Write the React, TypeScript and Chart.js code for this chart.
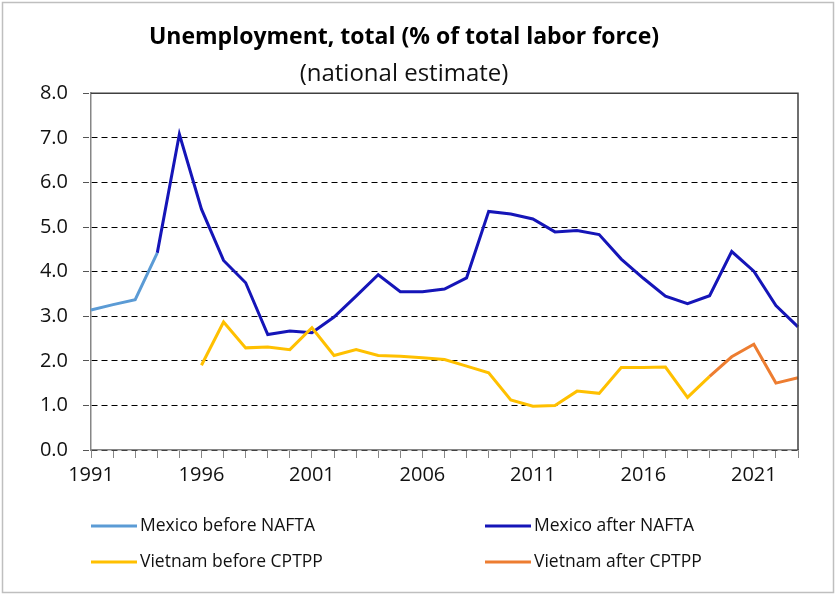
import React, { useEffect, useRef } from "react";
import { Chart, registerables } from "chart.js";

Chart.register(...registerables);

const years = [
  "1991", "1992", "1993", "1994", "1995", "1996", "1997", "1998", "1999", "2000",
  "2001", "2002", "2003", "2004", "2005", "2006", "2007", "2008", "2009", "2010",
  "2011", "2012", "2013", "2014", "2015", "2016", "2017", "2018", "2019", "2020",
  "2021", "2022", "2023",
];

// Mexico before NAFTA, 1991-1994
const mexicoBeforeStart = "1991";
const mexicoBefore = [3.14, 3.26, 3.37, 4.42];

// Mexico after NAFTA, 1994-2023
const mexicoAfterStart = "1994";
const mexicoAfter = [
  4.42, 7.08, 5.4, 4.25, 3.75, 2.59, 2.67, 2.63, 2.98, 3.45,
  3.93, 3.55, 3.55, 3.61, 3.86, 5.35, 5.29, 5.18, 4.89, 4.92,
  4.83, 4.28, 3.85, 3.45, 3.28, 3.46, 4.45, 4.01, 3.24, 2.76,
];

// Vietnam before CPTPP, 1996-2019
const vietnamBeforeStart = "1996";
const vietnamBefore = [
  1.9, 2.87, 2.29, 2.31, 2.25, 2.74, 2.12, 2.25, 2.12, 2.1,
  2.07, 2.03, 1.88, 1.73, 1.12, 0.98, 1.0, 1.32, 1.27, 1.85,
  1.85, 1.86, 1.18, 1.65,
];

// Vietnam after CPTPP, 2019-2023
const vietnamAfterStart = "2019";
const vietnamAfter = [1.65, 2.09, 2.37, 1.5, 1.62];

const yTicks = [0, 1, 2, 3, 4, 5, 6, 7, 8];
const xLabelEvery = 5;

const titleText = "Unemployment, total (% of total labor force)";
const subtitleText = "(national estimate)";

const seriesNames = [
  "Mexico before NAFTA",
  "Mexico after NAFTA",
  "Vietnam before CPTPP",
  "Vietnam after CPTPP",
];
const seriesColors = ["#5B9BD5", "#1515B8", "#FFC000", "#ED7D31"];

const FONT = "'Open Sans', Lato, sans-serif";

function pad(start: string, values: number[]): (number | null)[] {
  const s = years.indexOf(start);
  return years.map((_, i) => (i >= s && i - s < values.length ? values[i - s] : null));
}

const frameAndLegend = {
  id: "frameAndLegend",
  afterDraw(chart: any) {
    const { ctx, chartArea } = chart;
    const { left, right, top, bottom } = chartArea;
    ctx.save();
    // outer border
    ctx.strokeStyle = "#BFBFBF";
    ctx.lineWidth = 1.5;
    ctx.strokeRect(2.5, 2.5, chart.width - 5, chart.height - 5);
    // plot border top & right
    ctx.strokeStyle = "#404040";
    ctx.lineWidth = 1.5;
    ctx.beginPath();
    ctx.moveTo(left, top);
    ctx.lineTo(right, top);
    ctx.lineTo(right, bottom);
    ctx.stroke();

    // legend
    const cols = [left, left + 394];
    const rows = [bottom + 76, bottom + 112];
    ctx.font = `17.5px ${FONT}`;
    ctx.textBaseline = "middle";
    ctx.textAlign = "left";
    seriesNames.forEach((name, i) => {
      const x = cols[i % 2];
      const y = rows[Math.floor(i / 2)];
      ctx.strokeStyle = seriesColors[i];
      ctx.lineWidth = 3;
      ctx.beginPath();
      ctx.moveTo(x, y);
      ctx.lineTo(x + 46, y);
      ctx.stroke();
      ctx.fillStyle = "#111";
      ctx.fillText(name, x + 49, y);
    });
    ctx.restore();
  },
};

export default function App() {
  const ref = useRef<HTMLCanvasElement>(null);
  useEffect(() => {
    document.body.style.margin = "0";
    const canvas = ref.current!;
    const mk = (i: number, data: (number | null)[]) => ({
      label: seriesNames[i],
      data,
      borderColor: seriesColors[i],
      backgroundColor: seriesColors[i],
      borderWidth: 3,
      pointRadius: 0,
      tension: 0,
      spanGaps: false,
      fill: false,
    });
    const chart = new Chart(canvas, {
      type: "line",
      data: {
        labels: years,
        datasets: [
          mk(3, pad(vietnamAfterStart, vietnamAfter)),
          mk(2, pad(vietnamBeforeStart, vietnamBefore)),
          mk(0, pad(mexicoBeforeStart, mexicoBefore)),
          mk(1, pad(mexicoAfterStart, mexicoAfter)),
        ],
      },
      options: {
        responsive: false,
        animation: false,
        layout: { padding: { left: 10, right: 38, top: 10, bottom: 95 } },
        plugins: {
          legend: { display: false },
          tooltip: { enabled: false },
          title: {
            display: true,
            text: titleText,
            color: "#000",
            font: { family: FONT, size: 23, weight: "bold", lineHeight: 1.2 },
            padding: { top: 14, bottom: 1 },
          },
          subtitle: {
            display: true,
            text: subtitleText,
            color: "#111",
            font: { family: FONT, size: 24, weight: "normal", lineHeight: 1.15 },
            padding: { top: 8, bottom: 5 },
          },
        },
        scales: {
          x: {
            type: "category",
            offset: false,
            grid: {
              display: true,
              drawOnChartArea: false,
              drawTicks: true,
              tickLength: 8,
              tickColor: "#868686",
              tickWidth: 1,
              offset: false,
            },
            border: { display: true, color: "#868686", width: 1.5 },
            ticks: {
              autoSkip: false,
              maxRotation: 0,
              padding: 5,
              color: "#111",
              font: { family: FONT, size: 20 },
              callback: (_v: any, i: number) => (i % xLabelEvery === 0 ? years[i] : ""),
            },
            afterFit: (s: any) => {
              s.height = 50;
            },
          },
          y: {
            min: yTicks[0],
            max: yTicks[yTicks.length - 1],
            afterBuildTicks: (s: any) => {
              s.ticks = yTicks.map((v) => ({ value: v }));
            },
            grid: {
              color: "#000",
              lineWidth: 1,
              drawTicks: true,
              tickLength: 8,
              tickColor: "#555",
              tickBorderDash: [6, 4],
            },
            border: { display: true, color: "#868686", width: 1.5, dash: [6, 4] },
            ticks: {
              padding: 15,
              color: "#111",
              font: { family: FONT, size: 20 },
              callback: (v: any) => Number(v).toFixed(1),
            },
            afterFit: (s: any) => {
              s.width = 81;
            },
          },
        },
      },
      plugins: [frameAndLegend],
    } as any);
    return () => chart.destroy();
  }, []);
  return (
    <div style={{ width: 836, height: 595, background: "#fff" }}>
      <canvas ref={ref} width={836} height={595} style={{ display: "block" }} />
    </div>
  );
}
